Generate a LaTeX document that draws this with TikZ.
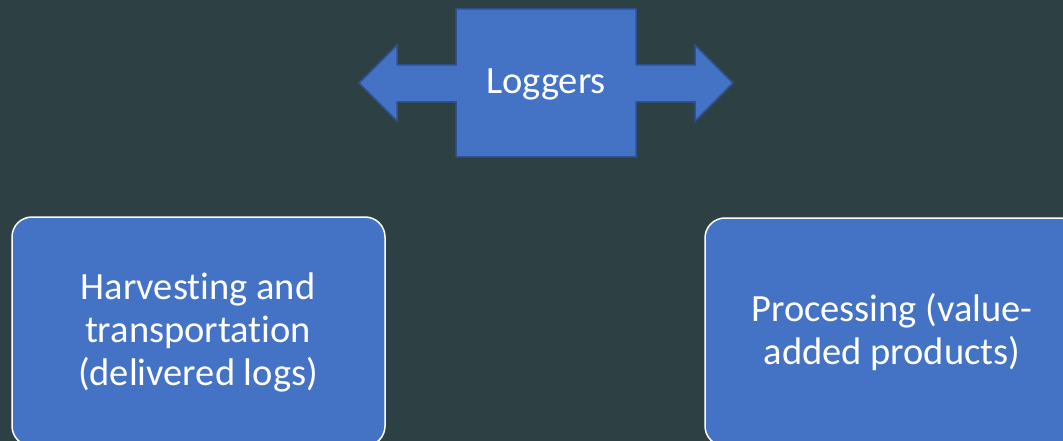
\documentclass[tikz,border=0pt]{standalone}
\usepackage{fontspec}
\setmainfont[Ligatures=NoCommon]{Carlito}
\definecolor{slate}{HTML}{2D4145}
\definecolor{boxblue}{HTML}{4472C4}
\definecolor{edgeblue}{HTML}{2F528F}
\begin{document}
\begin{tikzpicture}[
	x=1pt,
	y=-1pt,
	line join=miter,
	stagebox/.style={draw=white, line width=1.5pt, fill=boxblue, rounded corners=20pt},
	stagetext/.style={text=white, align=center, font=\fontsize{38.5}{43}\selectfont},
	]
\fill[slate] (0,0) rectangle (1063,441);
\useasboundingbox (0,0) rectangle (1063,441);
% callout with arrows both ways
\draw[fill=boxblue, draw=edgeblue, line width=1.5pt]
	(456,9) -- (636,9) -- (636,65) -- (695,65) -- (695,45) -- (733,83)
	-- (695,121) -- (695,102) -- (636,102) -- (636,157) -- (456,157)
	-- (456,102) -- (397,102) -- (397,121) -- (359,83) -- (397,45)
	-- (397,65) -- (456,65) -- cycle;
\node[stagetext] (loggers) at (546,84) {Loggers};
% stages
\draw[stagebox] (12,217) rectangle (385,446);
\node[stagetext] (harvest) at (198,332) {Harvesting and\\transportation\\(delivered logs)};
\draw[stagebox] (705,218) rectangle (1080,446);
\node[stagetext] (process) at (892,332) {Processing (value-\\added products)};
\end{tikzpicture}
\end{document}
